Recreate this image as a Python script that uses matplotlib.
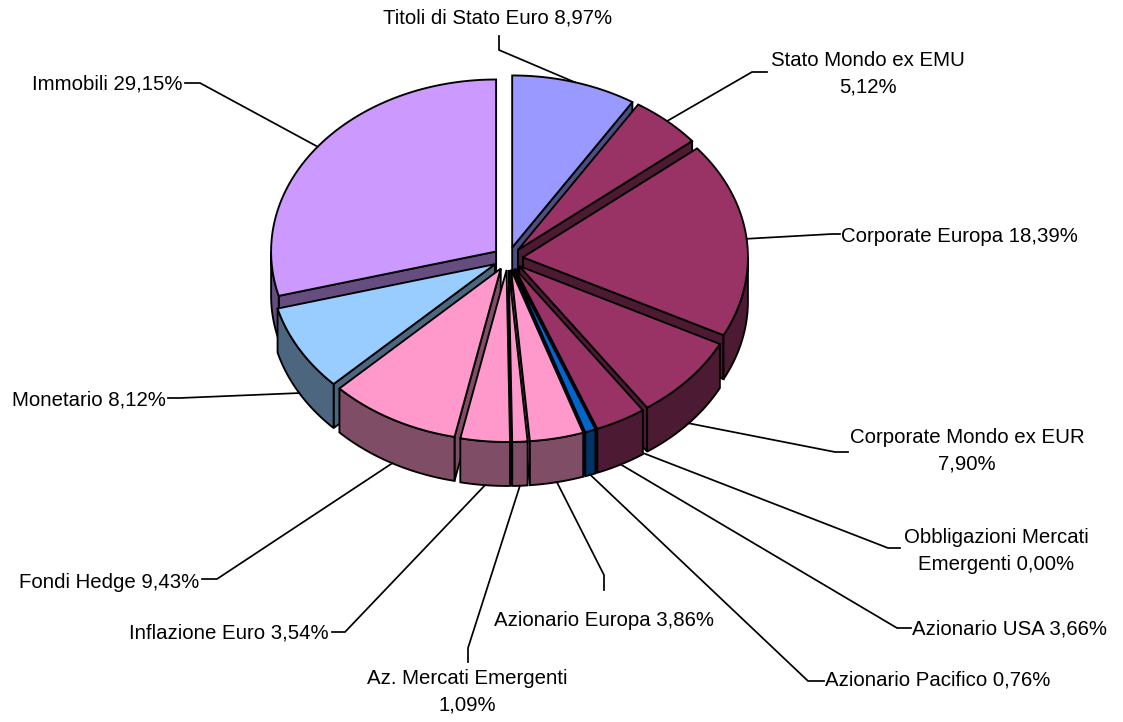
"""Exploded 3D pie of portfolio allocation, drawn as extruded polygons."""
import numpy as np
import matplotlib
matplotlib.use("Agg")
import matplotlib.pyplot as plt
from matplotlib.patches import Polygon

plt.rcParams["font.family"] = ["Liberation Sans", "DejaVu Sans"]

names = ["Titoli di Stato Euro", "Stato Mondo ex EMU", "Corporate Europa",
         "Corporate Mondo ex EUR", "Obbligazioni Mercati Emergenti",
         "Azionario USA", "Azionario Pacifico", "Azionario Europa",
         "Az. Mercati Emergenti", "Inflazione Euro", "Fondi Hedge",
         "Monetario", "Immobili"]
values = [8.97, 5.12, 18.39, 7.90, 0.00, 3.66, 0.76, 3.86, 1.09, 3.54, 9.43, 8.12, 29.15]
colors = ["#9999FF", "#993366", "#993366", "#993366", "#FFFFCC", "#993366", "#0066CC",
          "#FF99CC", "#FF99CC", "#FF99CC", "#FF99CC", "#99CCFF", "#CC99FF"]

# label text, as Excel wrapped them
label_text = ["Titoli di Stato Euro 8,97%", "Stato Mondo ex EMU\n5,12%",
              "Corporate Europa 18,39%", "Corporate Mondo ex EUR\n7,90%",
              "Obbligazioni Mercati\nEmergenti 0,00%", "Azionario USA 3,66%",
              "Azionario Pacifico 0,76%", "Azionario Europa 3,86%",
              "Az. Mercati Emergenti\n1,09%", "Inflazione Euro 3,54%",
              "Fondi Hedge 9,43%", "Monetario 8,12%", "Immobili 29,15%"]
label_xy = [(498, 18), (868, 74), (841, 236), (967, 451), (996, 551), (912, 629),
            (825, 680), (604, 621), (467, 692), (329, 633), (199, 582), (166, 400), (183, 84)]
label_ha = ["center", "center", "left", "center", "center", "left",
            "left", "center", "center", "right", "right", "right", "right"]
# leader route from the label end towards the slice
leader_a = [(499, 36), (767, 72), (840, 234), (848, 452), (900, 548), (911, 628),
            (824, 681), (604, 590), (468, 662), (332, 632), (202, 579), (168, 398), (185, 83)]
leader_b = [(499, 50), (752, 72), (832, 234), (835, 452), (888, 548), (897, 628),
            (808, 681), (604, 575), (468, 648), (345, 632), (217, 579), (180, 398), (200, 83)]

# projection of the tilted pie, in pixels
CX, CY = 508, 258.5
RX, RY = 225, 172
EX, EY = 15, 11.5
DEPTH = 44
EDGE = dict(edgecolor="black", linewidth=1.35, joinstyle="miter")


def dark(hex_color):
    rgb = np.array(matplotlib.colors.to_rgb(hex_color))
    return tuple(rgb * 0.5)


def apex(mid):
    return np.array([CX + EX * np.sin(mid), CY - EY * np.cos(mid)])


def rim(a0, th):
    th = np.asarray(th)
    return np.column_stack([a0[0] + RX * np.sin(th), a0[1] - RY * np.cos(th)])


fig = plt.figure(figsize=(11.23, 7.22), dpi=100)
ax = fig.add_axes([0, 0, 1, 1])
ax.set_xlim(0, 1123)
ax.set_ylim(722, 0)
ax.axis("off")

fracs = np.array(values) / sum(values) * 2 * np.pi
ends = np.cumsum(fracs)
starts = ends - fracs
mids = (starts + ends) / 2
down = np.array([0, DEPTH])

# back slices first, front slices paint over them
for i in np.argsort(-np.cos(mids)):
    if values[i] <= 0:
        continue
    a0 = apex(mids[i])
    th1, th2 = starts[i], ends[i]
    side = dark(colors[i])
    if np.sin(th2) > 0:  # clockwise cut face looks at the viewer
        p = rim(a0, [th2])[0]
        ax.add_patch(Polygon([a0, p, p + down, a0 + down], facecolor=side, **EDGE))
    if np.sin(th1) < 0:
        p = rim(a0, [th1])[0]
        ax.add_patch(Polygon([a0, p, p + down, a0 + down], facecolor=side, **EDGE))
    w0, w1 = max(th1, np.pi / 2), min(th2, 3 * np.pi / 2)
    if w1 > w0:
        arc = rim(a0, np.linspace(w0, w1, 80))
        ax.add_patch(Polygon(np.vstack([arc, arc[::-1] + down]), facecolor=side, **EDGE))
    arc = rim(a0, np.linspace(th1, th2, 160))
    ax.add_patch(Polygon(np.vstack([a0, arc]), facecolor=colors[i], **EDGE))

for i, name in enumerate(names):
    mid = mids[i]
    end = rim(apex(mid), [mid])[0]
    if np.cos(mid) < 0:
        end = end + down
    xs = [leader_a[i][0], leader_b[i][0], end[0]]
    ys = [leader_a[i][1], leader_b[i][1], end[1]]
    ax.plot(xs, ys, color="black", lw=1.25, solid_joinstyle="miter", zorder=1 if i else 5)
    ax.text(label_xy[i][0], label_xy[i][1], label_text[i], ha=label_ha[i], va="center",
            ma="center", fontsize=14.7, linespacing=1.52, color="black")

fig.savefig("out.png", dpi=100, facecolor="white")
